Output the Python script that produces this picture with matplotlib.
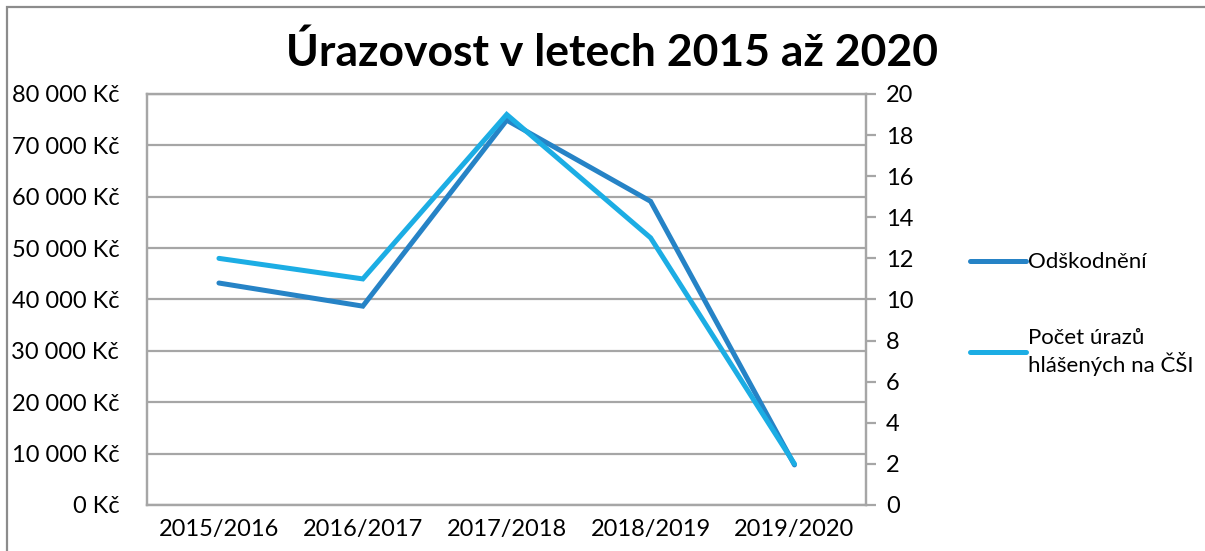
import matplotlib.pyplot as plt
import matplotlib.patches as mpatches
from matplotlib.ticker import FuncFormatter, MultipleLocator

years = ['2015/2016', '2016/2017', '2017/2018', '2018/2019', '2019/2020']
odskodneni = [43200, 38700, 74900, 59100, 7800]
pocet_urazu = [12, 11, 19, 13, 2]

dark_blue = '#2683C6'
light_blue = '#1CADE4'
grid_gray = '#A6A6A6'

plt.rcParams['font.family'] = ['Lato', 'DejaVu Sans']

fig = plt.figure(figsize=(12.05, 5.51), dpi=100)
ax = fig.add_axes([0.122, 0.0835, 0.597, 0.746])
ax2 = ax.twinx()

x = list(range(len(years)))
l1, = ax.plot(x, odskodneni, color=dark_blue, lw=3.6, solid_capstyle='round',
              solid_joinstyle='miter', label='Odškodnění', zorder=3)
l2, = ax2.plot(x, pocet_urazu, color=light_blue, lw=3.6, solid_capstyle='round',
               solid_joinstyle='miter', label='Počet úrazů\nhlášených na ČŠI', zorder=3)

ax.set_xlim(-0.5, 4.5)
ax.set_ylim(0, 80000)
ax2.set_ylim(0, 20)
ax.yaxis.set_major_locator(MultipleLocator(10000))
ax2.yaxis.set_major_locator(MultipleLocator(2))
ax.yaxis.set_major_formatter(FuncFormatter(lambda v, p: '{:,.0f} Kč'.format(v).replace(',', ' ')))
ax.set_xticks(x)
ax.set_xticklabels(years)

ax.grid(axis='y', color=grid_gray, lw=1.6)
ax.set_axisbelow(True)
for a in (ax, ax2):
    for s in a.spines.values():
        s.set_color(grid_gray)
        s.set_linewidth(1.6)
ax.tick_params(axis='y', length=0, labelsize=17, pad=20)
ax.tick_params(axis='x', length=0, labelsize=17, pad=10)
ax2.tick_params(axis='y', length=7, width=1.6, color=grid_gray, labelsize=17, pad=7)

fig.text(0.508, 0.905, 'Úrazovost v letech 2015 až 2020', ha='center', va='center',
         fontsize=32, fontweight='bold')

leg = fig.legend(handles=[l1, l2], loc='center left', bbox_to_anchor=(0.805, 0.43),
                 frameon=False, fontsize=16, handlelength=2.5, handletextpad=0.1,
                 labelspacing=2.5, borderpad=0, borderaxespad=0)

border = mpatches.Rectangle((7 / 1205, -0.05), 1.1, 1 - 7 / 551 + 0.05,
                            transform=fig.transFigure, fill=False,
                            edgecolor='#8C8C8C', lw=1.6, clip_on=False)
fig.patches.append(border)

fig.savefig('out.png', dpi=100)
